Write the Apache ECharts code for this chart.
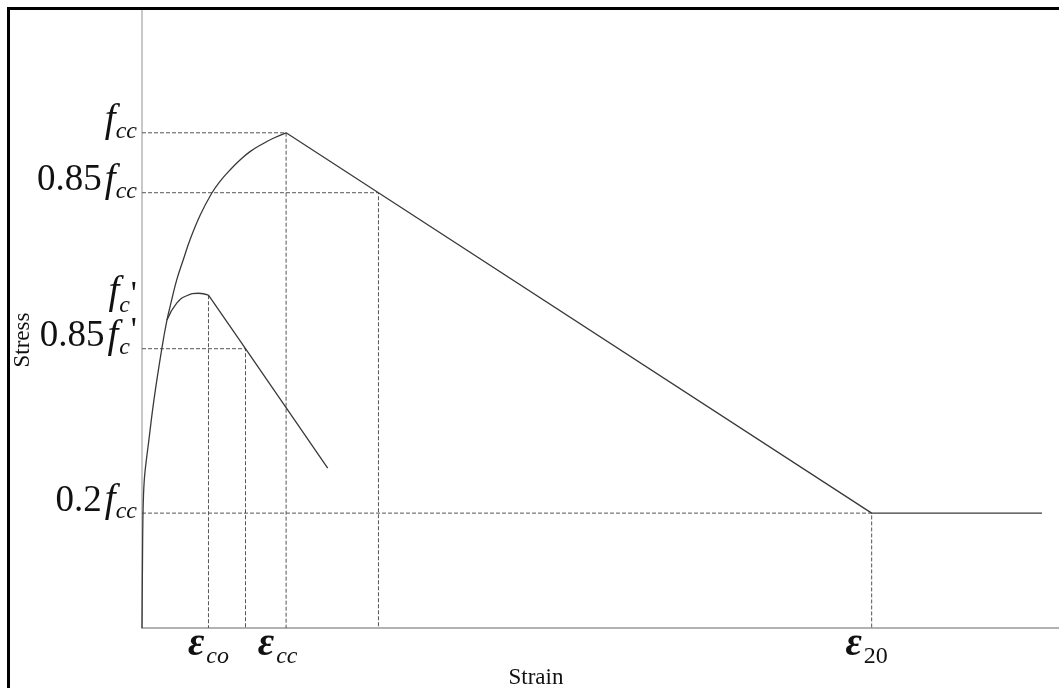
<!DOCTYPE html>
<html>
<head>
<meta charset="utf-8">
<script src="https://cdn.jsdelivr.net/npm/echarts@6/dist/echarts.min.js"></script>
<style>
html,body{margin:0;padding:0;background:#fff;}
#chart{width:1059px;height:688px;}
</style>
</head>
<body>
<div id="chart"></div>
<script>
// Strain in units of 1e-3 (schematic), stress normalised to f_cc = 1
const confinedAscX = [0, 0.006, 0.015, 0.027, 0.046, 0.070, 0.107, 0.192, 0.366, 0.605, 0.763, 0.901, 1.06, 1.252, 1.466, 1.771, 2.128, 2.382, 2.687, 2.992, 3.298, 3.664, 4.009, 4.4];
const confinedAscY = [0, 0.057, 0.137, 0.218, 0.269, 0.299, 0.325, 0.370, 0.461, 0.564, 0.622, 0.661, 0.703, 0.742, 0.784, 0.833, 0.878, 0.902, 0.925, 0.945, 0.962, 0.977, 0.989, 1.0];
const confinedDescX = [4.4, 7.22, 22.28, 27.48];
const confinedDescY = [1.0, 0.879, 0.232, 0.232];
const unconfinedArchX = [0.763, 1.06, 1.365, 1.719, 2.03];
const unconfinedArchY = [0.622, 0.656, 0.671, 0.676, 0.672];
const unconfinedDescX = [2.03, 3.16, 5.67];
const unconfinedDescY = [0.672, 0.564, 0.323];

// reference (dashed) levels: [strain at corner, stress level]
const refStrain = [4.4, 7.22, 3.16, 22.28];
const refStress = [1.0, 0.879, 0.564, 0.232];
const epsCo = 2.03, fcPrime = 0.672;

const stressTicks = [0.232, 0.564, 0.672, 0.879, 1.0];
const stressTickLabels = ["{n|0.2}{f|f}{s|cc}", "{n|0.85}{f|f}{s3|c}{p|'}", "{F|f}{C|c}{P|'}", "{n|0.85}{f|f}{s|cc}", "{f|f}{s|cc}"];
const strainTicks = [2.03, 4.4, 22.28];
const strainTickLabels = ["{e1|ε}{s|co}", "{e|ε}{s2|cc}", "{e|ε}{s3|20}"];

const zip = (xs, ys) => xs.map((x, i) => [x, ys[i]]);
const FONT = "'Liberation Serif', 'DejaVu Serif', serif";
const INK = '#111';

const dashStyle = {color: '#555', width: 1, type: [4, 2]};
const curveStyle = {color: '#3a3a3a', width: 1.3};

const series = [];
refStrain.forEach((x, i) => {
  series.push({type: 'line', data: [[0, refStress[i]], [x, refStress[i]], [x, 0]], showSymbol: false, silent: true, lineStyle: dashStyle, z: 1});
});
series.push({type: 'line', data: [[epsCo, fcPrime], [epsCo, 0]], showSymbol: false, silent: true, lineStyle: dashStyle, z: 1});
series.push({type: 'line', data: zip(confinedAscX, confinedAscY), showSymbol: false, smooth: 0.4, lineStyle: curveStyle, z: 3});
series.push({type: 'line', data: zip(confinedDescX, confinedDescY), showSymbol: false, lineStyle: curveStyle, z: 3});
series.push({type: 'line', data: zip(unconfinedArchX, unconfinedArchY), showSymbol: false, smooth: 0.5, lineStyle: curveStyle, z: 3});
series.push({type: 'line', data: zip(unconfinedDescX, unconfinedDescY), showSymbol: false, lineStyle: curveStyle, z: 3});

const chart = echarts.init(document.getElementById('chart'), null, {renderer: 'canvas'});
chart.setOption({
  animation: false,
  backgroundColor: '#fff',
  grid: {left: 142, right: 0, top: 9, bottom: 60, containLabel: false, outerBoundsMode: 'none'},
  xAxis: {
    type: 'value', min: 0, max: 28,
    name: 'Strain', nameLocation: 'middle', nameGap: 38, nameMoveOverlap: false,
    nameTextStyle: {fontFamily: FONT, fontSize: 23, color: INK, padding: [0, 129, 0, 0]},
    axisLine: {show: true, lineStyle: {color: '#999', width: 1.5}},
    axisTick: {show: false},
    splitLine: {show: false},
    axisLabel: {
      customValues: strainTicks, margin: -7,
      formatter: v => strainTickLabels[strainTicks.indexOf(v)],
      rich: {
        e: {fontFamily: FONT, fontStyle: 'italic', fontWeight: 'bold', fontSize: 40, color: INK, lineHeight: 48},
        e1: {fontFamily: FONT, fontStyle: 'italic', fontWeight: 'bold', fontSize: 40, color: INK, lineHeight: 48, padding: [0, 0, 0, 0]},
        s: {fontFamily: FONT, fontStyle: 'italic', fontSize: 24, color: INK, lineHeight: 20, verticalAlign: 'bottom', padding: [0, 0, 0, 2]},
        s2: {fontFamily: FONT, fontStyle: 'italic', fontSize: 24, color: INK, lineHeight: 20, verticalAlign: 'bottom', padding: [0, 17, 0, 2]},
        s3: {fontFamily: FONT, fontSize: 24, color: INK, lineHeight: 20, verticalAlign: 'bottom', padding: [0, 10, 0, 2]}
      }
    }
  },
  yAxis: {
    type: 'value', min: 0, max: 1.25,
    name: 'Stress', nameLocation: 'middle', nameGap: 108, nameRotate: 90, nameMoveOverlap: false,
    nameTextStyle: {fontFamily: FONT, fontSize: 23, color: INK, padding: [0, 43, 0, 0]},
    axisLine: {show: true, lineStyle: {color: '#c8c8c8', width: 2}},
    axisTick: {show: false},
    splitLine: {show: false},
    axisLabel: {
      customValues: stressTicks, margin: 5, padding: [0, 0, 24, 0],
      formatter: v => stressTickLabels[stressTicks.indexOf(v)],
      rich: {
        n: {fontFamily: FONT, fontSize: 37, color: INK, lineHeight: 46},
        f: {fontFamily: FONT, fontStyle: 'italic', fontSize: 39, color: INK, lineHeight: 46, padding: [0, 0, 0, 3]},
        s: {fontFamily: FONT, fontStyle: 'italic', fontSize: 24, color: INK, lineHeight: 24, verticalAlign: 'bottom'},
        s3: {fontFamily: FONT, fontStyle: 'italic', fontSize: 24, color: INK, lineHeight: 24, verticalAlign: 'bottom', padding: [0, 0, 0, 1]},
        p: {fontFamily: FONT, fontSize: 34, color: INK, lineHeight: 46, verticalAlign: 'top', padding: [0, 0, 0, 1]},
        F: {fontFamily: FONT, fontStyle: 'italic', fontSize: 39, color: INK, lineHeight: 46, verticalAlign: 'top', padding: [13, 0, 0, 0]},
        C: {fontFamily: FONT, fontStyle: 'italic', fontSize: 24, color: INK, lineHeight: 46, verticalAlign: 'top', padding: [33, 0, 0, 0]},
        P: {fontFamily: FONT, fontSize: 34, color: INK, lineHeight: 46, verticalAlign: 'top', padding: [18, 0, 0, 1]}
      }
    }
  },
  graphic: [
    {type: 'polyline', shape: {points: [[8.5, 700], [8.5, 8.5], [1070, 8.5]]}, style: {fill: null, stroke: '#000', lineWidth: 3}, z: 100, silent: true}
  ],
  series: series
});
</script>
</body>
</html>
